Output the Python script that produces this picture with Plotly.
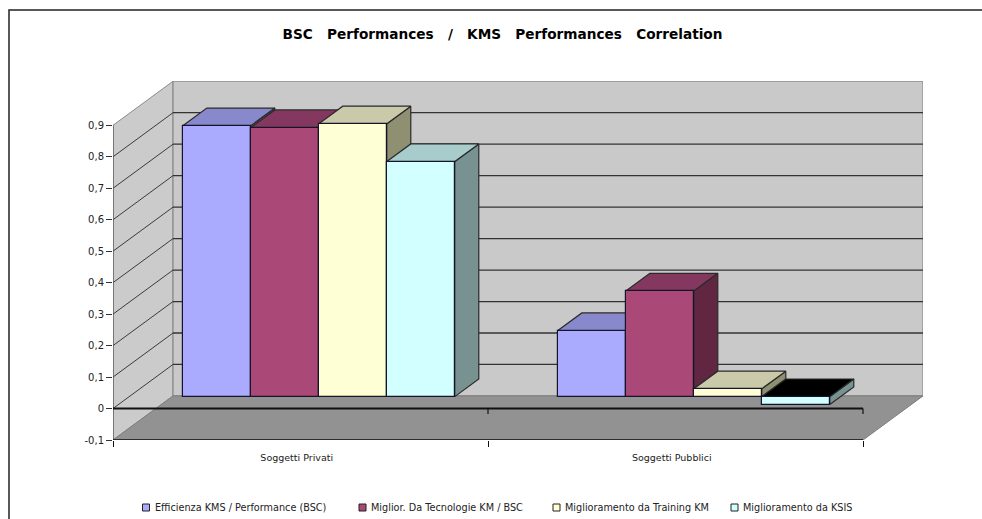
import plotly.graph_objects as go

# Chart data
categories = ["Soggetti Privati", "Soggetti Pubblici"]
series_names = [
    "Efficienza KMS / Performance (BSC)",
    "Miglior. Da Tecnologie KM / BSC",
    "Miglioramento da Training KM",
    "Miglioramento da KSIS",
]
efficienza = [0.861, 0.21]
tecnologie = [0.855, 0.336]
training = [0.867, 0.025]
ksis = [0.747, -0.025]
series_values = [efficienza, tecnologie, training, ksis]
y_ticks = [-0.1, 0, 0.1, 0.2, 0.3, 0.4, 0.5, 0.6, 0.7, 0.8, 0.9]
y_tick_labels = ["-0,1", "0", "0,1", "0,2", "0,3", "0,4", "0,5", "0,6", "0,7", "0,8", "0,9"]

# Series colours: front, top and side faces
front_colors = ["#AAAAFF", "#AA4877", "#FFFFD5", "#D2FFFF"]
top_colors = ["#8888CC", "#85385F", "#CACAAA", "#A8CCCC"]
side_colors = ["#66668F", "#602642", "#8F8F72", "#789292"]

FONT = "DejaVu Sans"
W, H = 982, 519
LEFT, RIGHT, TOP, BOTTOM = 113, 923, 81, 440

# Oblique projection: moving one full depth unit shifts a point right and up
X_MAX = 2.16
Y_MIN, Y_MAX = -0.1, 1.0408
DEPTH_X, DEPTH_Y = 0.16, 0.14
BAR_PLANE = 0.27          # depth of the bars' front faces
BAR_DEPTH = 0.40          # thickness of the bars along the depth axis
BAR_WIDTH = 0.1813
GROUP_START = 0.143


def project(x, v, depth=0.0):
    return x + depth * DEPTH_X, v + depth * DEPTH_Y


def polygon(points, fill, line="#222222", width=1.0, **kw):
    xs, ys = zip(*[project(*p) for p in points])
    return go.Scatter(
        x=list(xs) + [xs[0]], y=list(ys) + [ys[0]], mode="lines", fill="toself",
        fillcolor=fill, line=dict(color=line, width=width), hoverinfo="skip",
        showlegend=False, **kw,
    )


def segment(points, color="#222222", width=1.0):
    xs, ys = zip(*[project(*p) for p in points])
    return go.Scatter(
        x=xs, y=ys, mode="lines", line=dict(color=color, width=width),
        hoverinfo="skip", showlegend=False,
    )


fig = go.Figure()

# Side wall, back wall and floor
fig.add_trace(polygon([(0, -0.1, 0), (0, 0.9, 0), (0, 0.9, 1), (0, -0.1, 1)], "#CBCBCB", "#8A8A8A"))
fig.add_trace(polygon([(0, -0.1, 1), (0, 0.9, 1), (2, 0.9, 1), (2, -0.1, 1)], "#C9C9C9", "#8A8A8A", 1.2))

# Gridlines wrap from the side wall onto the back wall
for v in y_ticks[1:-1]:
    fig.add_trace(segment([(0, v, 0), (0, v, 1)], "#2A2A2A", 0.9))
    fig.add_trace(segment([(0, v, 1), (2, v, 1)], "#333333", 1.3))

fig.add_trace(polygon([(0, -0.1, 0), (2, -0.1, 0), (2, -0.1, 1), (0, -0.1, 1)], "#929292", "#7E7E7E"))

# Front edges of the walls, the floor and the zero line
fig.add_trace(segment([(0, -0.1), (0, 0.9)], "#555555", 1.2))
fig.add_trace(segment([(0, -0.1), (2, -0.1)], "#111111", 1.3))
fig.add_trace(segment([(0, 0), (2, 0)], "#111111", 2))
for c in (1, 2):
    fig.add_trace(segment([(c, 0), (c, -0.017)], "#111111", 1.2))

# Top and side faces, painted left to right so nearer bars overlap correctly
for c in range(len(categories)):
    for s, values in enumerate(series_values):
        v = values[c]
        x0 = c + GROUP_START + s * BAR_WIDTH
        x1 = x0 + BAR_WIDTH
        d0, d1 = BAR_PLANE, BAR_PLANE + BAR_DEPTH
        hi = max(v, 0)
        lo = min(v, 0)
        fig.add_trace(polygon([(x1, lo, d0), (x1, hi, d0), (x1, hi, d1), (x1, lo, d1)], side_colors[s], "#2A2A2A", 1.2))
        top_fill = "#000000" if v < 0 else top_colors[s]
        fig.add_trace(polygon([(x0, hi, d0), (x1, hi, d0), (x1, hi, d1), (x0, hi, d1)], top_fill, "#2A2A2A", 1.2))

# Front faces sit on an overlaying axis pair, above every other face
for s, values in enumerate(series_values):
    xs = [c + GROUP_START + (s + 0.5) * BAR_WIDTH + BAR_PLANE * DEPTH_X for c in range(len(categories))]
    fig.add_trace(go.Bar(
        x=xs, y=values, base=[BAR_PLANE * DEPTH_Y] * len(values), width=BAR_WIDTH,
        name=series_names[s], marker=dict(color=front_colors[s], line=dict(color="#15152A", width=1.2)),
        xaxis="x2", yaxis="y2", showlegend=False,
    ))


def paper_x(px):
    return (px - LEFT) / (RIGHT - LEFT)


def paper_y(py):
    return (BOTTOM - py) / (BOTTOM - TOP)


shapes = [dict(
    type="path", xref="paper", yref="paper",
    path=f"M{paper_x(9)},{paper_y(H + 2)} L{paper_x(9)},{paper_y(10)} L{paper_x(W + 2)},{paper_y(10)}",
    line=dict(color="#222222", width=1.5),
)]

# Legend row
annotations = []
legend_swatch_x = [142.5, 359, 553, 731]
for s, name in enumerate(series_names):
    sx = legend_swatch_x[s]
    shapes.append(dict(
        type="rect", xref="paper", yref="paper",
        x0=paper_x(sx), x1=paper_x(sx + 7), y0=paper_y(511), y1=paper_y(504),
        fillcolor=front_colors[s], line=dict(color="#222222", width=1),
    ))
    annotations.append(dict(
        xref="paper", yref="paper", x=paper_x(sx + 10), y=paper_y(507.5),
        text=name, showarrow=False, xanchor="left", yanchor="middle",
        font=dict(family=FONT, size=9.7, color="#222222"),
    ))

gap = "\u00a0\u00a0\u00a0"
title_text = gap.join(["BSC", "Performances", "/", "KMS", "Performances", "Correlation"])

fig.update_layout(
    width=W, height=H, autosize=False, barmode="overlay", bargap=0,
    margin=dict(l=LEFT, r=W - RIGHT, t=TOP, b=H - BOTTOM),
    paper_bgcolor="white", plot_bgcolor="white",
    title=dict(
        text=title_text, xref="container", yref="container", x=502.5 / W, y=1 - 34 / H,
        xanchor="center", yanchor="middle",
        font=dict(family=FONT, size=13.65, color="#000000", weight="bold"),
    ),
    xaxis=dict(
        range=[0, X_MAX], showgrid=False, zeroline=False, showline=False,
        tickmode="array", tickvals=[0.49, 1.49], ticktext=categories,
        ticks="outside", ticklen=9, tickcolor="rgba(0,0,0,0)",
        tickfont=dict(family=FONT, size=9.5, color="#222222"),
        minor=dict(tickmode="array", tickvals=[0, 1, 2], ticks="outside", ticklen=6, tickcolor="#111111", tickwidth=1.2),
    ),
    yaxis=dict(
        range=[Y_MIN, Y_MAX], showgrid=False, zeroline=False, showline=False,
        tickmode="array", tickvals=y_ticks, ticktext=y_tick_labels,
        ticks="outside", ticklen=6, tickcolor="#333333", tickwidth=1,
        tickfont=dict(family=FONT, size=10, color="#222222"),
    ),
    xaxis2=dict(range=[0, X_MAX], overlaying="x", visible=False),
    yaxis2=dict(range=[Y_MIN, Y_MAX], overlaying="y", visible=False),
    shapes=shapes,
    annotations=annotations,
    showlegend=False,
)

fig.write_html("out.html", config=dict(displayModeBar=False))
